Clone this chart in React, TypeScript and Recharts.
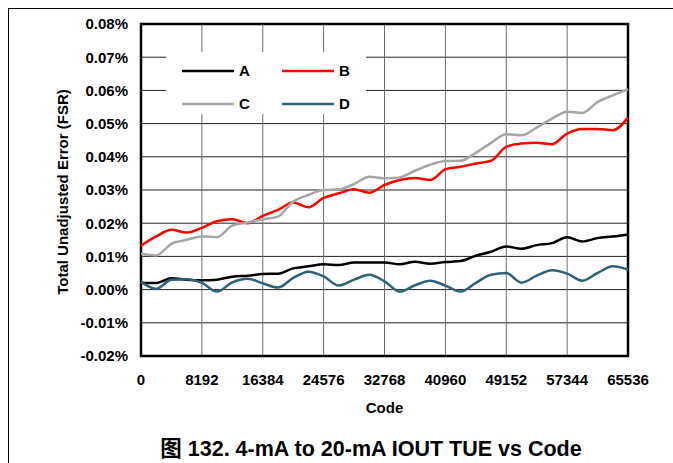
import React from 'react';
import { LineChart, Line, XAxis, YAxis, CartesianGrid, Legend, ReferenceArea } from 'recharts';

const codes = [
  0, 2048, 4096, 6144, 8192, 10240, 12288, 14336, 16384, 18432, 20480, 22528, 24576, 26624, 28672, 30720,
  32768, 34816, 36864, 38912, 40960, 43008, 45056, 47104, 49152, 51200, 53248, 55296, 57344, 59392, 61440, 63488, 65536,
];

const seriesA = [
  0.0021, 0.002, 0.0034, 0.003, 0.0028, 0.003, 0.0039, 0.0042, 0.0047, 0.0048, 0.0064, 0.007, 0.0076, 0.0074, 0.0082, 0.0082,
  0.0082, 0.0076, 0.0084, 0.0078, 0.0083, 0.0086, 0.0102, 0.0114, 0.013, 0.0123, 0.0134, 0.014, 0.0158, 0.0145, 0.0155, 0.016, 0.0166,
];
const seriesB = [
  0.0132, 0.016, 0.018, 0.0172, 0.0186, 0.0206, 0.0212, 0.02, 0.0222, 0.024, 0.0262, 0.0248, 0.0276, 0.029, 0.0302, 0.0292,
  0.0315, 0.033, 0.0336, 0.033, 0.0362, 0.037, 0.038, 0.0388, 0.043, 0.044, 0.0442, 0.0438, 0.047, 0.0484, 0.0484, 0.048, 0.0518,
];
const seriesC = [
  0.0108, 0.0103, 0.0138, 0.015, 0.016, 0.0158, 0.0193, 0.0202, 0.0212, 0.022, 0.0265, 0.0285, 0.03, 0.0302, 0.0318, 0.034,
  0.0335, 0.0338, 0.0358, 0.0376, 0.0387, 0.0388, 0.0412, 0.0442, 0.0468, 0.0465, 0.0488, 0.0515, 0.0536, 0.0532, 0.0565, 0.0585, 0.0603,
];
const seriesD = [
  0.0024, 0.0002, 0.003, 0.0031, 0.002, -0.0006, 0.0022, 0.0033, 0.0019, 0.0006, 0.0035, 0.0054, 0.004, 0.0012, 0.003, 0.0045,
  0.0025, -0.0006, 0.0013, 0.0027, 0.0012, -0.0006, 0.002, 0.0045, 0.005, 0.0021, 0.0042, 0.0058, 0.0048, 0.0027, 0.005, 0.007, 0.006,
];

const xTicks = [0, 8192, 16384, 24576, 32768, 40960, 49152, 57344, 65536];
const yTicks = [-0.02, -0.01, 0, 0.01, 0.02, 0.03, 0.04, 0.05, 0.06, 0.07, 0.08];

const seriesNames = ['A', 'B', 'C', 'D'];
const seriesColors = ['#000000', '#ff0000', '#a6a6a6', '#2f6179'];

const data = codes.map((c, i) => ({ code: c, A: seriesA[i], B: seriesB[i], C: seriesC[i], D: seriesD[i] }));

const FONT = '"Liberation Sans", Arial, "Noto Sans CJK SC", sans-serif';

const LegendContent = () => (
  <div style={{ position: 'relative', width: 200, height: 62, background: '#fff' }}>
    {seriesNames.map((n, i) => {
      const col = i % 2;
      const row = Math.floor(i / 2);
      return (
        <div
          key={n}
          style={{
            position: 'absolute',
            left: 16 + col * 100,
            top: (row === 0 ? 19 : 52) - 9,
            height: 18,
            display: 'flex',
            alignItems: 'center',
            fontFamily: FONT,
            fontWeight: 'bold',
            fontSize: 15,
            color: '#000',
          }}
        >
          <svg width={52} height={18} style={{ display: 'block' }}>
            <line x1={0} y1={9} x2={52} y2={9} stroke={seriesColors[i]} strokeWidth={2.5} />
          </svg>
          <span style={{ marginLeft: 5, lineHeight: '18px' }}>{n}</span>
        </div>
      );
    })}
  </div>
);

const YTitle = () => (
  <text
    x={62}
    y={192}
    transform="rotate(-90,62,192)"
    textAnchor="middle"
    dominantBaseline="central"
    fontFamily={FONT}
    fontWeight="bold"
    fontSize={15}
    fill="#000"
  >
    Total Unadjusted Error (FSR)
  </text>
);

export default function App() {
  return (
    <div style={{ position: 'absolute', left: 0, top: 0, width: 673, height: 463, background: '#fff' }}>
      <div
        style={{
          position: 'absolute',
          left: 8,
          top: 8,
          width: 665,
          height: 455,
          borderTop: '1.5px solid #000',
          borderLeft: '1.5px solid #000',
          boxSizing: 'border-box',
        }}
      />
      <div style={{ position: 'absolute', left: 0, top: 0 }}>
        <LineChart width={673} height={463} data={data} margin={{ top: 24, right: 45, left: 0, bottom: 0 }}>
          <CartesianGrid horizontal={true} vertical={false} stroke="#222" strokeWidth={1} />
          <CartesianGrid horizontal={false} vertical={true} stroke="#6e6e6e" strokeWidth={1} />
          <XAxis
            dataKey="code"
            type="number"
            domain={[0, 65536]}
            ticks={xTicks}
            interval={0}
            height={107}
            tickLine={false}
            axisLine={false}
            tickSize={16}
            tickMargin={2}
            tick={{ fontFamily: FONT, fontWeight: 'bold', fontSize: 15, fill: '#000' }}
            label={{
              value: 'Code',
              position: 'insideBottom',
              offset: 50,
              style: { fontFamily: FONT, fontWeight: 'bold', fontSize: 15, fill: '#000' },
            }}
          />
          <YAxis
            type="number"
            domain={[-0.02, 0.08]}
            ticks={yTicks}
            interval={0}
            width={141}
            tickLine={false}
            axisLine={false}
            tickSize={11}
            tickMargin={2}
            tickFormatter={(v: number) => v.toFixed(2) + '%'}
            tick={{ fontFamily: FONT, fontWeight: 'bold', fontSize: 15, fill: '#000' }}
            label={() => <YTitle />}
          />
          {seriesNames.map((n, i) => (
            <Line
              key={n}
              dataKey={n}
              type="monotone"
              stroke={seriesColors[i]}
              strokeWidth={2.5}
              dot={false}
              activeDot={false}
              isAnimationActive={false}
            />
          ))}
          <ReferenceArea
            x1={0}
            x2={65536}
            y1={-0.02}
            y2={0.08}
            fill="none"
            fillOpacity={0}
            stroke="#000"
            strokeWidth={2.5}
            ifOverflow="visible"
          />
          <Legend
            layout="horizontal"
            verticalAlign="middle"
            align="center"
            content={() => <LegendContent />}
            wrapperStyle={{ position: 'absolute', left: 166, top: 52, width: 200, height: 62 }}
          />
        </LineChart>
      </div>
      <div
        style={{
          position: 'absolute',
          left: 71,
          top: 435,
          width: 600,
          textAlign: 'center',
          fontFamily: FONT,
          fontWeight: 'bold',
          fontSize: 21.5,
          lineHeight: '28px',
          color: '#000',
          whiteSpace: 'nowrap',
        }}
      >
        图 132. 4-mA to 20-mA IOUT TUE vs Code
      </div>
    </div>
  );
}
